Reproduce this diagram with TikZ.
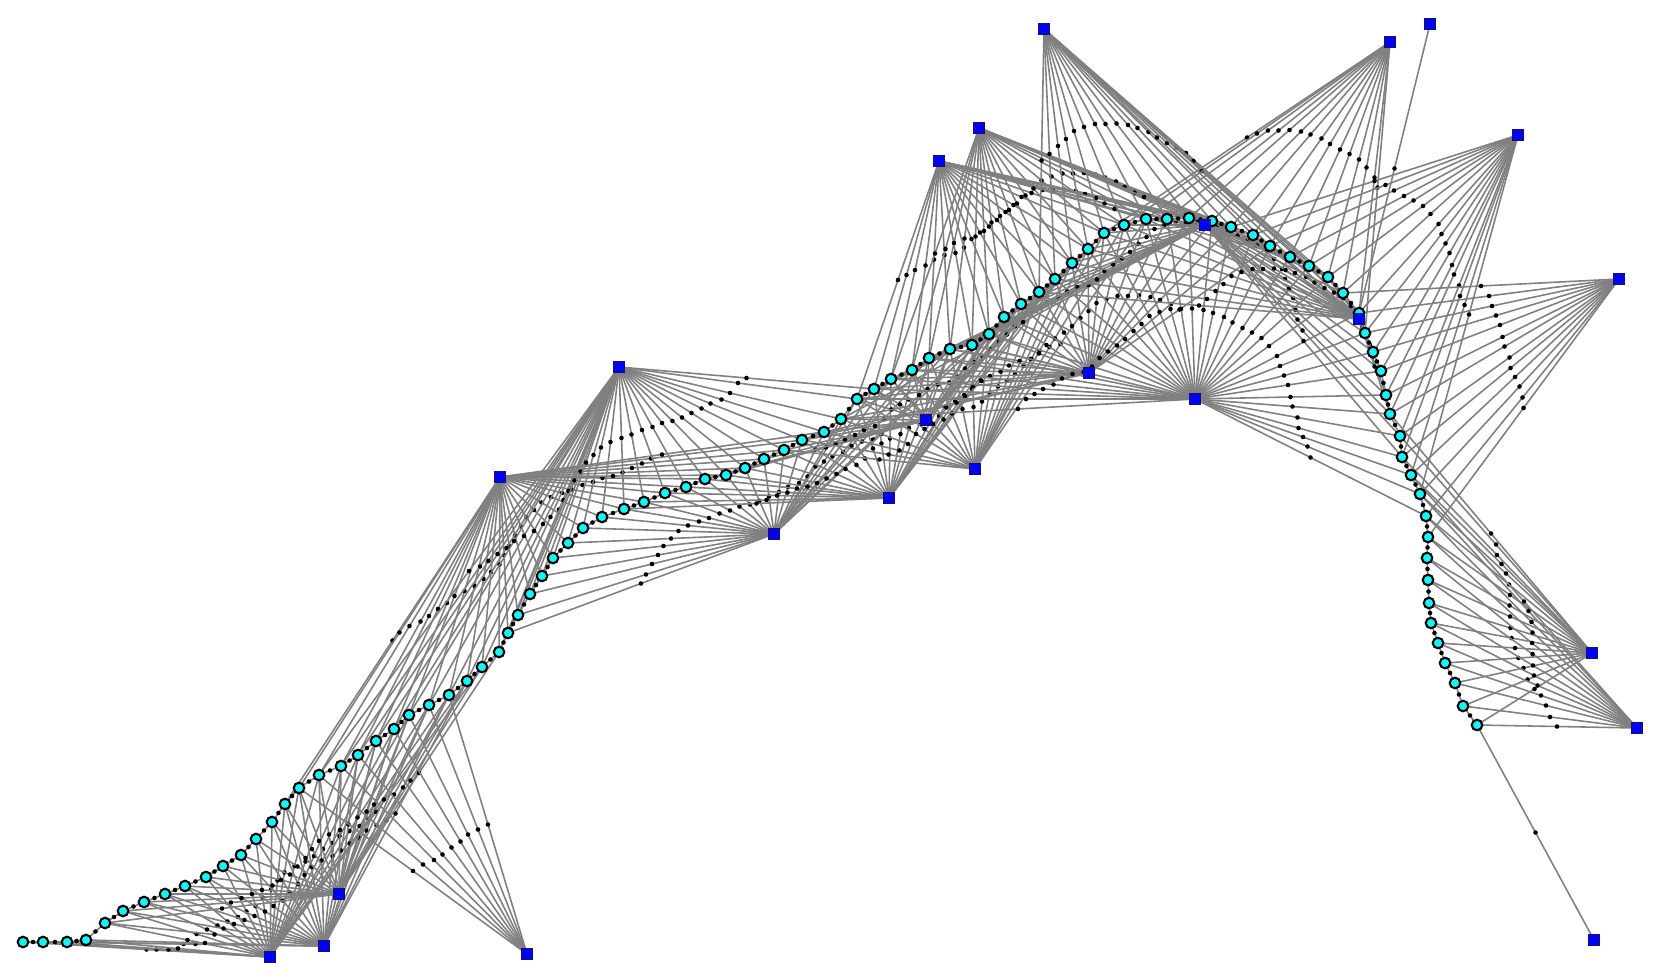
\documentclass[tikz,border=0pt]{standalone}
\usepackage{tikz}
\definecolor{beadcyan}{RGB}{0,255,255}
\definecolor{postblue}{RGB}{0,0,255}
\definecolor{postrim}{RGB}{20,20,90}
\definecolor{linkgray}{RGB}{128,128,128}
\tikzstyle{edge}=[draw=linkgray, line width=0.45pt]
\tikzstyle{mid}=[circle, fill=black, inner sep=0pt, minimum size=1.3pt]
\tikzstyle{bead}=[circle, draw=black, fill=beadcyan, line width=0.6pt, inner sep=0pt, minimum size=3pt]
\tikzstyle{post}=[rectangle, draw=postrim, fill=postblue, line width=0.45pt, inner sep=0pt, minimum size=3.1pt]

\begin{document}
\begin{tikzpicture}[x=0.01cm, y=-0.01cm]
\useasboundingbox (0,0) rectangle (1655,976);
% Beads
    \foreach \x/\y [count=\i] in {23/942, 43/942, 67/942, 86/940, 105/923, 123/911, 144/902, 165/894,
        185/886, 206/877, 223/866, 241/855, 256/839, 272/822, 285/804, 299/788, 319/775, 341/766,
        358/755, 376/741, 394/729, 409/715, 429/705, 449/695, 467/681, 482/667, 499/652, 508/633,
        518/615, 530/594, 542/576, 553/558, 568/543, 583/528, 602/517, 624/509, 644/502, 665/493,
        686/487, 705/479, 726/475, 745/468, 764/459, 784/450, 802/440, 824/432, 841/419, 857/399,
        874/389, 891/379, 912/370, 929/358, 950/349, 972/345, 989/334, 1004/317, 1021/304, 1039/292,
        1055/279, 1072/263, 1088/249, 1104/233, 1124/225, 1146/219, 1167/219, 1189/218, 1212/221,
        1231/227, 1253/235, 1270/246, 1290/257, 1309/266, 1328/277, 1343/293, 1359/313, 1365/333,
        1373/352, 1381/371, 1386/395, 1390/414, 1400/436, 1402/457, 1411/475, 1420/494, 1426/516,
        1428/537, 1427/558, 1428/580, 1429/603, 1431/623, 1438/643, 1445/663, 1455/683, 1463/706,
        1477/725}
        \coordinate (c\i) at (\x,\y);
% Posts
    \foreach \x/\y [count=\i] in {270/957, 324/946, 339/894, 527/954, 500/477, 619/367, 774/534,
        889/498, 926/420, 975/469, 939/161, 979/128, 1044/29, 1089/373, 1195/399, 1205/225,
        1359/319, 1390/42, 1430/24, 1518/135, 1619/279, 1592/653, 1637/728, 1594/940}
        \coordinate (s\i) at (\x,\y);
% Post to bead links
    \foreach \s/\a/\b in {1/1/26, 2/2/25, 3/5/27, 4/16/24, 5/15/46, 6/17/49, 7/28/55, 8/36/60,
        9/40/62, 10/44/64, 11/48/71, 12/50/72, 13/58/75, 14/45/70, 15/47/85, 16/47/82, 17/58/80,
        18/62/76, 19/75/75, 20/68/84, 21/74/86, 22/80/95, 23/83/95, 24/95/95}
        \foreach \i in {\a,...,\b}
            \draw[edge] (s\s) -- (c\i) node[mid, midway] {};
% Chain
    \foreach \i [evaluate=\i as \j using int(\i+1)] in {1,...,94}
        \draw[edge] (c\i) -- (c\j) node[mid, midway] {};
% Nodes
    \foreach \i in {1,...,95}
        \node[bead] (b\i) at (c\i) {};
    \foreach \i in {1,...,24}
        \node[post] (p\i) at (s\i) {};
\end{tikzpicture}
\end{document}
